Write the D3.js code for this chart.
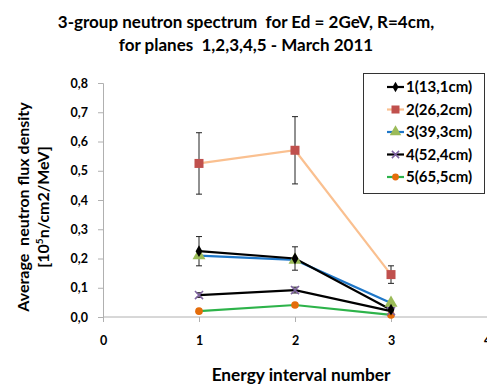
<!DOCTYPE html>
<html><head><meta charset="utf-8">
<script src="https://cdn.jsdelivr.net/npm/d3@7"></script>
<style>body{margin:0;background:#fff;} svg{display:block;font-family:Lato, "Open Sans", sans-serif;} text{white-space:pre;}</style>
</head><body>
<svg id="c" width="487" height="385"></svg>
<script>
const xs = [1, 2, 3];
const xTicks = [0, 1, 2, 3, 4];
const yTicks = [0, 0.1, 0.2, 0.3, 0.4, 0.5, 0.6, 0.7, 0.8];
const seriesNames = ["1(13,1cm)", "2(26,2cm)", "3(39,3cm)", "4(52,4cm)", "5(65,5cm)"];
const s1 = [0.225, 0.200, 0.025];
const s2 = [0.525, 0.570, 0.145];
const s3 = [0.210, 0.195, 0.048];
const s4 = [0.075, 0.092, 0.020];
const s5 = [0.020, 0.041, 0.007];
const e1 = [0.050, 0.040, 0.008];
const e2 = [0.105, 0.115, 0.030];
const e3 = [0.0, 0.0, 0.0];
const e4 = [0.008, 0.010, 0.004];
const e5 = [0.0, 0.0, 0.0];
const lineColors = ["#000000", "#fac090", "#1f77c8", "#000000", "#2db34a"];
const markColors = ["#000000", "#c0504d", "#9bbb59", "#8064a2", "#e46c0a"];
const markTypes = ["diamond", "square", "triangle", "x", "circle"];
const values = [s1, s2, s3, s4, s5];
const errs = [e1, e2, e3, e4, e5];

const svg = d3.select("#c");
const x = d3.scaleLinear().domain([0, 4]).range([103, 487]);
const y = d3.scaleLinear().domain([0, 0.8]).range([317, 83]);
const fmt = d => d3.format(".1f")(d).replace(".", ",");

// title
svg.append("text").attr("x", 246).attr("y", 28).attr("text-anchor", "middle")
  .attr("font-weight", "bold").attr("font-size", 17).text("3-group neutron spectrum  for Ed = 2GeV, R=4cm,");
svg.append("text").attr("x", 246).attr("y", 51).attr("text-anchor", "middle")
  .attr("font-weight", "bold").attr("font-size", 17).text("for planes  1,2,3,4,5 - March 2011");

// axes
const gy = svg.append("g").attr("transform", "translate(103,0)")
  .call(d3.axisLeft(y).tickValues(yTicks).tickFormat(fmt).tickSize(5).tickPadding(10));
const gx = svg.append("g").attr("transform", "translate(0,317)")
  .call(d3.axisBottom(x).tickValues(xTicks).tickFormat(d3.format("d")).tickSize(5).tickPadding(14));
[gx, gy].forEach(g => {
  g.select(".domain").attr("stroke", "#b0b0b0");
  g.selectAll(".tick line").attr("stroke", "#b0b0b0");
  g.selectAll(".tick text").attr("font-family", "Lato, sans-serif").attr("font-weight", "bold")
    .attr("font-size", 12.5).attr("fill", "#000");
});
gx.select(".domain").attr("d", "M103,0H487");

// axis titles
svg.append("text").attr("x", 301).attr("y", 381).attr("text-anchor", "middle")
  .attr("font-weight", "bold").attr("font-size", 17.3).text("Energy interval number");
const yt = svg.append("text").attr("transform", "translate(29,207) rotate(-90)")
  .attr("text-anchor", "middle").attr("font-weight", "bold").attr("font-size", 16);
yt.append("tspan").attr("x", 0).attr("y", 0).text("Average  neutron flux density");
const t2 = yt.append("tspan").attr("x", 0).attr("y", 19.5);
t2.append("tspan").text("[10");
t2.append("tspan").attr("font-size", 10).attr("dy", -6).text("5");
t2.append("tspan").attr("dy", 6).text("n/cm2/MeV]");

function drawMarker(g, type, cx, cy, color, size) {
  if (type === "circle") {
    g.append("circle").attr("cx", cx).attr("cy", cy).attr("r", size * 0.85).attr("fill", color);
  } else if (type === "square") {
    g.append("rect").attr("x", cx - size).attr("y", cy - size).attr("width", 2 * size).attr("height", 2 * size).attr("fill", color);
  } else if (type === "diamond") {
    g.append("path").attr("d", d3.symbol(d3.symbolDiamond, size * size * 2)()).attr("transform", `translate(${cx},${cy})`).attr("fill", color);
  } else if (type === "triangle") {
    g.append("path").attr("d", d3.symbol(d3.symbolTriangle, size * size * 3.6)()).attr("transform", `translate(${cx},${cy})`).attr("fill", color);
  } else if (type === "x") {
    const s = size * 0.9;
    g.append("path").attr("d", `M${cx - s},${cy - s}L${cx + s},${cy + s}M${cx - s},${cy + s}L${cx + s},${cy - s}`)
      .attr("stroke", color).attr("stroke-width", 1.5).attr("fill", "none");
  }
}

const line = d3.line().x((d, i) => x(xs[i])).y(d => y(d));
const order = [4, 3, 2, 0, 1];
order.forEach(k => {
  svg.append("path").datum(values[k]).attr("d", line).attr("fill", "none")
    .attr("stroke", lineColors[k]).attr("stroke-width", 2.2);
});
// error bars
order.forEach(k => {
  values[k].forEach((v, i) => {
    const e = errs[k][i];
    if (e <= 0) return;
    const cx = x(xs[i]);
    const g = svg.append("g").attr("stroke", "#222").attr("stroke-width", 1);
    g.append("line").attr("x1", cx).attr("x2", cx).attr("y1", y(v - e)).attr("y2", y(v + e));
    g.append("line").attr("x1", cx - 3).attr("x2", cx + 3).attr("y1", y(v - e)).attr("y2", y(v - e));
    g.append("line").attr("x1", cx - 3).attr("x2", cx + 3).attr("y1", y(v + e)).attr("y2", y(v + e));
  });
});
order.forEach(k => {
  const g = svg.append("g");
  values[k].forEach((v, i) => drawMarker(g, markTypes[k], x(xs[i]), y(v), markColors[k], 4.5));
});

// legend
const lg = svg.append("g");
lg.append("rect").attr("x", 363.5).attr("y", 73.5).attr("width", 121).attr("height", 120)
  .attr("fill", "#fff").attr("stroke", "#333").attr("stroke-width", 1);
seriesNames.forEach((n, k) => {
  const ly = 87 + k * 22.5;
  lg.append("line").attr("x1", 387).attr("x2", 404).attr("y1", ly).attr("y2", ly)
    .attr("stroke", lineColors[k]).attr("stroke-width", 2.2);
  drawMarker(lg, markTypes[k], 395.5, ly, markColors[k], 4);
  lg.append("text").attr("x", 406).attr("y", ly + 5).attr("font-weight", "bold")
    .attr("font-size", 15).text(n);
});
</script>
</body></html>
